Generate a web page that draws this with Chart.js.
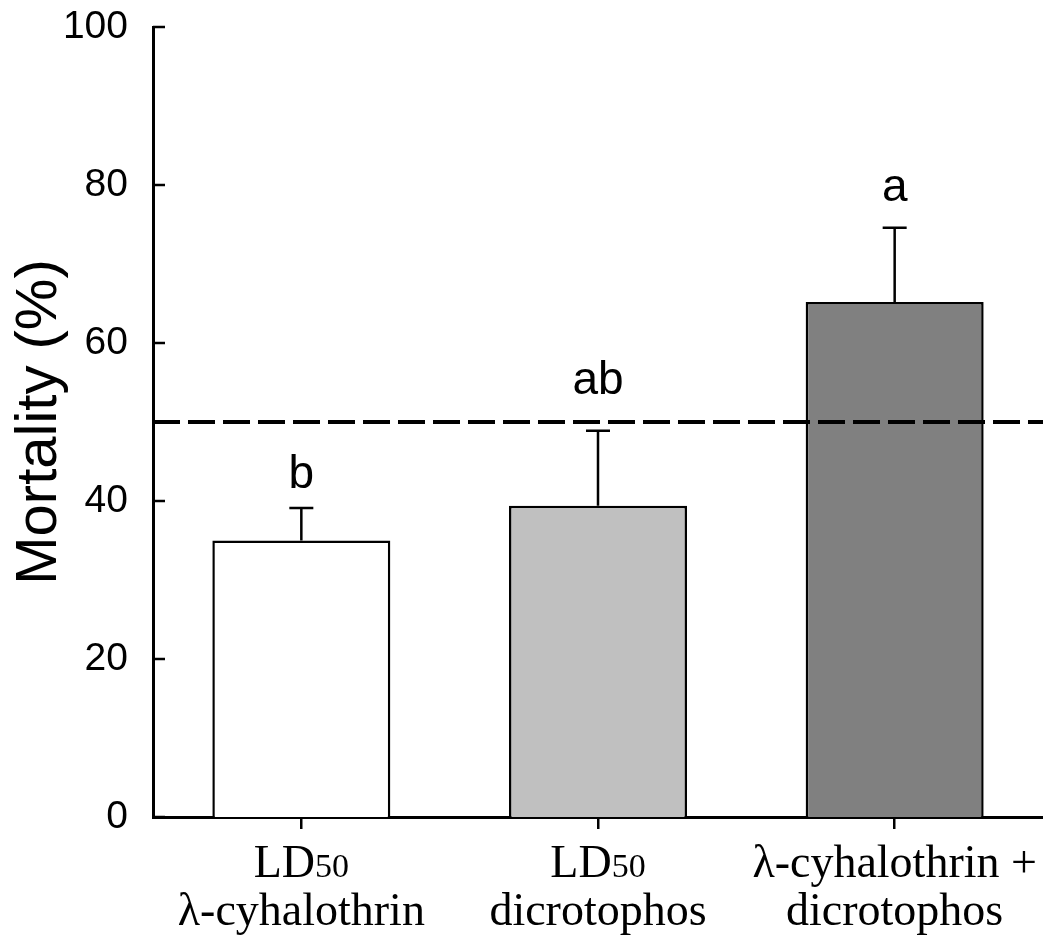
<!DOCTYPE html>
<html>
<head>
<meta charset="utf-8">
<script src="https://cdn.jsdelivr.net/npm/chart.js@4/dist/chart.umd.min.js"></script>
<style>
  html, body { margin: 0; padding: 0; background: #fff; }
  #wrap { width: 1043px; height: 942px; }
</style>
</head>
<body>
<div id="wrap"><canvas id="chart" width="1043" height="942"></canvas></div>
<script>
'use strict'

// data
var categories = [
  ['LD|50', 'λ-cyhalothrin'],
  ['LD|50', 'dicrotophos'],
  ['λ-cyhalothrin +', 'dicrotophos']
]
var mortality = [35.0, 39.4, 65.2]
var errorTop = [39.1, 48.9, 74.6]
var letters = ['b', 'ab', 'a']
var refLine = 50
var yTicks = [0, 20, 40, 60, 80, 100]

var barColors = ['#ffffff', '#c0c0c0', '#808080']

// error bars (upper only), inward y ticks, dashed line, letters, x labels
var extras = {
  id: 'extras',
  afterDatasetsDraw: function (chart) {
    var ctx = chart.ctx
    var x = chart.scales.x
    var y = chart.scales.y
    var area = chart.chartArea
    ctx.save()
    ctx.strokeStyle = '#000'

    // y ticks pointing into the plot
    ctx.lineWidth = 2.5
    yTicks.forEach(function (v) {
      var py = y.getPixelForValue(v)
      ctx.beginPath()
      ctx.moveTo(area.left, py)
      ctx.lineTo(area.left + 12, py)
      ctx.stroke()
    })

    // error bars
    mortality.forEach(function (v, i) {
      var px = x.getPixelForValue(i)
      var top = y.getPixelForValue(errorTop[i])
      var base = y.getPixelForValue(v)
      ctx.lineWidth = 2.5
      ctx.beginPath()
      ctx.moveTo(px, base)
      ctx.lineTo(px, top)
      ctx.moveTo(px - 12, top)
      ctx.lineTo(px + 12, top)
      ctx.stroke()
    })

    // 50% reference line
    var ry = y.getPixelForValue(refLine)
    ctx.lineWidth = 4
    ctx.setLineDash([27, 8])
    ctx.beginPath()
    ctx.moveTo(area.left, ry)
    ctx.lineTo(area.right, ry)
    ctx.stroke()
    ctx.setLineDash([])

    // significance letters
    var gaps = [20, 37, 27]
    ctx.fillStyle = '#000'
    ctx.font = '46px "Liberation Sans", Arial, sans-serif'
    ctx.textAlign = 'center'
    ctx.textBaseline = 'alphabetic'
    letters.forEach(function (t, i) {
      ctx.fillText(t, x.getPixelForValue(i), y.getPixelForValue(errorTop[i]) - gaps[i])
    })

    // category labels with subscript
    var big = 46, small = 34
    categories.forEach(function (lines, i) {
      var cx = x.getPixelForValue(i)
      lines.forEach(function (line, j) {
        var by = 877 + j * 48
        var parts = line.split('|')
        ctx.font = big + 'px "Liberation Serif", "Times New Roman", serif'
        var w1 = ctx.measureText(parts[0]).width
        var w2 = 0
        if (parts[1]) {
          ctx.font = small + 'px "Liberation Serif", "Times New Roman", serif'
          w2 = ctx.measureText(parts[1]).width
        }
        var sx = cx - (w1 + w2) / 2
        ctx.textAlign = 'left'
        ctx.font = big + 'px "Liberation Serif", "Times New Roman", serif'
        ctx.fillText(parts[0], sx, by)
        if (parts[1]) {
          ctx.font = small + 'px "Liberation Serif", "Times New Roman", serif'
          ctx.fillText(parts[1], sx + w1, by)
        }
      })
    })
    ctx.restore()
  }
}

new Chart(document.getElementById('chart'), {
  type: 'bar',
  data: {
    labels: categories.map(function (c) { return c.join(' ').replace('|', '') }),
    datasets: [{
      data: mortality,
      backgroundColor: barColors,
      borderColor: '#000',
      borderWidth: 2.5,
      barPercentage: 0.6,
      categoryPercentage: 1
    }]
  },
  options: {
    responsive: false,
    animation: false,
    layout: { padding: { top: 27, right: 0, left: 0, bottom: 0 } },
    plugins: { legend: { display: false }, tooltip: { enabled: false } },
    scales: {
      x: {
        grid: { display: true, drawOnChartArea: false, drawTicks: true, tickLength: 12, offset: false, color: '#000', lineWidth: 2.5 },
        border: { display: true, color: '#000', width: 3 },
        ticks: { display: false },
        afterFit: function (s) { s.height = 125 }
      },
      y: {
        min: 0,
        max: 100,
        afterBuildTicks: function (s) { s.ticks = yTicks.map(function (v) { return { value: v } }) },
        grid: { display: false, drawTicks: false },
        border: { display: true, color: '#000', width: 3 },
        ticks: {
          color: '#000',
          padding: 25,
          font: { family: '"Liberation Sans", Arial, sans-serif', size: 39 }
        },
        title: {
          display: true,
          text: 'Mortality (%)',
          color: '#000',
          padding: { top: 5, bottom: 0 },
          font: { family: '"Liberation Sans", Arial, sans-serif', size: 58, lineHeight: 1.2 }
        },
        afterFit: function (s) {
          s.width = 153
          s.paddingTop = 0
          s.paddingBottom = 0
        }
      }
    }
  },
  plugins: [extras]
})
</script>
</body>
</html>
